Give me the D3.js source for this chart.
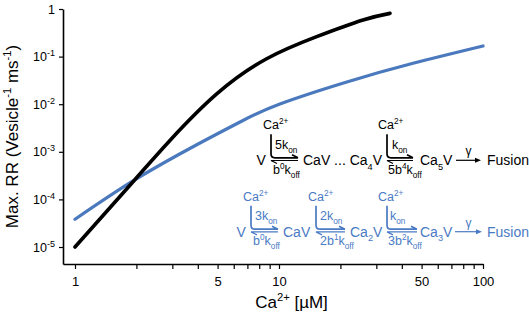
<!DOCTYPE html>
<html>
<head>
<meta charset="utf-8">
<script src="https://cdn.jsdelivr.net/npm/d3@7"></script>
<style>
  body { margin: 0; background: #fff; }
  svg { display: block; font-family: Arial, "Liberation Sans", sans-serif; }
  text { white-space: pre; }
</style>
</head>
<body>
<div id="chart"></div>
<script>
// 5-site model (black) and 3-site model (blue): max release rate vs [Ca2+]
const caBlack = [1, 1.96, 2.92, 4.95, 8.7, 15.3, 25.8, 35];
const rrBlack = [1.0e-5, 2.56e-4, 1.73e-3, 0.0164, 0.09, 0.262, 0.587, 0.81];
const caBlue = [1, 1.96, 3.93, 6.66, 10.1, 21.5, 45.4, 100];
const rrBlue = [3.82e-5, 2.56e-4, 1.39e-3, 4.55e-3, 0.0101, 0.0293, 0.0723, 0.167];

const xTickValues = [1, 2, 3, 4, 5, 6, 7, 8, 9, 10, 20, 30, 40, 50, 60, 70, 80, 90, 100];
const xTickLabels = [1, 5, 10, 50, 100];
const yTickExponents = [0, -1, -2, -3, -4, -5];

const width = 529, height = 315;
const blackColor = '#000';
const blueLine = '#4b79bd';
const blueText = '#4a7ac4';

const svg = d3.select('#chart').append('svg')
  .attr('width', width)
  .attr('height', height)
  .attr('viewBox', `0 0 ${width} ${height}`);

// scales (axes start slightly before 1 uM and below 1e-5)
const x = d3.scaleLog().domain([Math.pow(10, -0.0588), 100]).range([63, 483]);
const y = d3.scaleLog().domain([Math.pow(10, -5.357), 1]).range([264, 9]);

/**
 * Text with sub/superscripts: parts = ["Ca", ["2+", "sup"], ...]
 */
function rich(sel, px, py, parts, size, color, anchor) {
  const t = sel.append('text')
    .attr('x', px)
    .attr('y', py)
    .attr('font-size', size)
    .attr('fill', color)
    .attr('text-anchor', anchor || 'start');
  let shift = 0;
  parts.forEach(p => {
    const [str, mode] = typeof p === 'string' ? [p, null] : p;
    const target = mode === 'sup' ? -0.4 * size : mode === 'sub' ? 0.3 * size : 0;
    t.append('tspan')
      .attr('dy', target - shift)
      .attr('font-size', mode ? size * 0.66 : size)
      .text(str);
    shift = target;
  });
  return t;
}

// x axis
const xAxis = svg.append('g')
  .attr('transform', `translate(0,264)`)
  .call(d3.axisBottom(x)
    .tickValues(xTickValues)
    .tickSize(5)
    .tickSizeOuter(0)
    .tickFormat(d => xTickLabels.includes(d) ? d : ''));
xAxis.select('.domain').attr('stroke', '#000').attr('stroke-width', 1.6);
xAxis.selectAll('.tick line').attr('stroke', '#000').attr('stroke-width', 1.2);
xAxis.selectAll('.tick text')
  .attr('y', 13)
  .attr('font-size', 13)
  .attr('font-family', 'Arial, "Liberation Sans", sans-serif')
  .attr('fill', '#000');

// y axis
const yAxis = svg.append('g')
  .attr('transform', `translate(63,0)`)
  .call(d3.axisLeft(y)
    .tickValues(yTickExponents.map(e => Math.pow(10, e)))
    .tickSize(4)
    .tickSizeOuter(0)
    .tickFormat(() => ''));
yAxis.select('.domain').attr('stroke', '#000').attr('stroke-width', 1.6);
yAxis.selectAll('.tick line').attr('stroke', '#000').attr('stroke-width', 1.2);
yAxis.selectAll('.tick text')
  .attr('x', -8)
  .attr('font-size', 12.5)
  .attr('font-family', 'Arial, "Liberation Sans", sans-serif')
  .attr('fill', '#000')
  .each(function(d, i) {
    const e = yTickExponents[i];
    const t = d3.select(this);
    if (e === 0) {
      t.append('tspan').text('1');
    } else {
      t.append('tspan').text('10');
      t.append('tspan').attr('dy', -5).attr('font-size', 9).text(String(e));
    }
  });

// curves
const line = d3.line()
  .x(d => x(d[0]))
  .y(d => y(d[1]))
  .curve(d3.curveNatural);

svg.append('path')
  .datum(caBlue.map((c, i) => [c, rrBlue[i]]))
  .attr('d', line)
  .attr('fill', 'none')
  .attr('stroke', blueLine)
  .attr('stroke-width', 3.2)
  .attr('stroke-linecap', 'round');

svg.append('path')
  .datum(caBlack.map((c, i) => [c, rrBlack[i]]))
  .attr('d', line)
  .attr('fill', 'none')
  .attr('stroke', blackColor)
  .attr('stroke-width', 3.6)
  .attr('stroke-linecap', 'round');

// axis titles
rich(svg, 291.5, 308, ['Ca', ['2+', 'sup'], ' [\u00b5M]'], 17, '#000', 'middle');
svg.append('g')
  .attr('transform', 'translate(18,136.5) rotate(-90)')
  .call(g => rich(g, 0, 0,
    ['Max. RR (Vesicle', ['-1', 'sup'], ' ms', ['-1', 'sup'], ')'], 17, '#000', 'middle'));

// kinetic schemes
const schemes = [
  {
    color: blackColor, base: 165.3,
    species: [
      { x: 256.5, parts: ['V'] },
      { x: 303, parts: ['CaV ... Ca', ['4', 'sub'], 'V'] },
      { x: 420, parts: ['Ca', ['5', 'sub'], 'V'] },
      { x: 487, parts: ['Fusion'] }
    ],
    steps: [
      { x0: 271, x1: 298, ca: 263, onX: 275, on: ['5k', ['on', 'sub']], offX: 273, off: ['b', ['0', 'sup'], 'k', ['off', 'sub']] },
      { x0: 387, x1: 413, ca: 378, onX: 392, on: ['k', ['on', 'sub']], offX: 388, off: ['5b', ['4', 'sup'], 'k', ['off', 'sub']] }
    ],
    fusion: { x0: 456, x1: 481 }
  },
  {
    color: blueText, base: 236.7,
    species: [
      { x: 236.5, parts: ['V'] },
      { x: 283, parts: ['CaV'] },
      { x: 350, parts: ['Ca', ['2', 'sub'], 'V'] },
      { x: 420, parts: ['Ca', ['3', 'sub'], 'V'] },
      { x: 487, parts: ['Fusion'] }
    ],
    steps: [
      { x0: 251, x1: 278, ca: 243, onX: 255, on: ['3k', ['on', 'sub']], offX: 253, off: ['b', ['0', 'sup'], 'k', ['off', 'sub']] },
      { x0: 316, x1: 345, ca: 308, onX: 320, on: ['2k', ['on', 'sub']], offX: 320, off: ['2b', ['1', 'sup'], 'k', ['off', 'sub']] },
      { x0: 387, x1: 417, ca: 378, onX: 390, on: ['k', ['on', 'sub']], offX: 388, off: ['3b', ['2', 'sup'], 'k', ['off', 'sub']] }
    ],
    fusion: { x0: 455, x1: 482 }
  }
];

schemes.forEach(s => {
  const g = svg.append('g');
  const b = s.base;

  s.species.forEach(sp => rich(g, sp.x, b, sp.parts, 14, s.color));

  s.steps.forEach(st => {
    const yU = b - 7.5, yL = b - 4.8, r = 4;
    rich(g, st.ca, b - 36, ['Ca', ['2+', 'sup']], 12.5, s.color);
    // bent forward arrow (Ca2+ coming in)
    g.append('path')
      .attr('d', `M${st.x0},${b - 31} V${yU - r} Q${st.x0},${yU} ${st.x0 + r},${yU} H${st.x1} M${st.x1},${yU} L${st.x1 - 6},${yU - 3}`)
      .attr('fill', 'none')
      .attr('stroke', s.color)
      .attr('stroke-width', 1.7);
    // backward harpoon
    g.append('path')
      .attr('d', `M${st.x1},${yL} H${st.x0} L${st.x0 + 6},${yL + 3}`)
      .attr('fill', 'none')
      .attr('stroke', s.color)
      .attr('stroke-width', 1.2);
    rich(g, st.onX, b - 16.5, st.on, 12.5, s.color);
    rich(g, st.offX, b + 8.5, st.off, 12.5, s.color);
  });

  // fusion arrow
  const yA = b - 5;
  g.append('line')
    .attr('x1', s.fusion.x0).attr('x2', s.fusion.x1 - 4)
    .attr('y1', yA).attr('y2', yA)
    .attr('stroke', s.color).attr('stroke-width', 1.2);
  g.append('path')
    .attr('d', `M${s.fusion.x1},${yA} L${s.fusion.x1 - 6},${yA - 2.5} L${s.fusion.x1 - 6},${yA + 2.5} Z`)
    .attr('fill', s.color);
  g.append('text')
    .attr('x', (s.fusion.x0 + s.fusion.x1) / 2)
    .attr('y', b - 10)
    .attr('text-anchor', 'middle')
    .attr('font-size', 12)
    .attr('fill', s.color)
    .text('\u03b3');
});
</script>
</body>
</html>
